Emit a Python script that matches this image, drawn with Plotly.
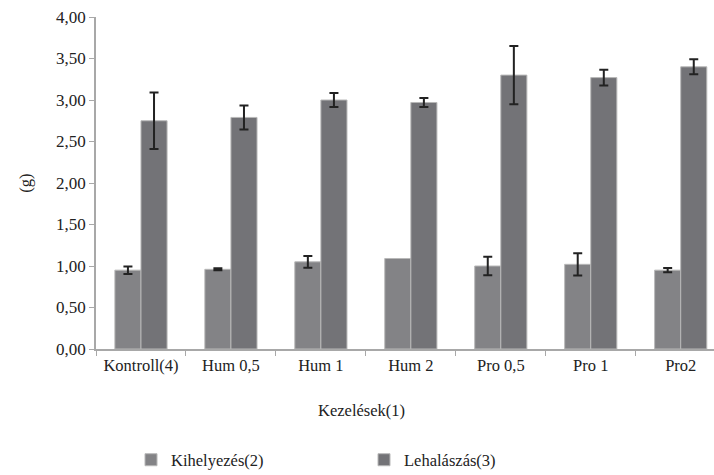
import plotly.graph_objects as go

categories = ["Kontroll(4)", "Hum 0,5", "Hum 1", "Hum 2", "Pro 0,5", "Pro 1", "Pro2"]
kihelyezes = [0.95, 0.96, 1.05, 1.09, 1.00, 1.02, 0.95]
kihelyezes_err = [0.045, 0.012, 0.07, None, 0.11, 0.135, 0.025]
lehalaszas = [2.75, 2.79, 3.00, 2.97, 3.30, 3.27, 3.40]
lehalaszas_err = [0.34, 0.145, 0.085, 0.055, 0.35, 0.095, 0.09]
y_ticks = [0, 0.5, 1.0, 1.5, 2.0, 2.5, 3.0, 3.5, 4.0]
y_tick_labels = ["0,00", "0,50", "1,00", "1,50", "2,00", "2,50", "3,00", "3,50", "4,00"]

FONT = "Liberation Serif, Times New Roman, serif"
TXT = "#222222"
W, H = 714, 475
L, R, T, B = 96, 0, 17, 126
PH = H - T - B

# plotly.js skips error bars whose value is not numeric (NaN); null would become 0
kih_err_plot = [e if e is not None else "NaN" for e in kihelyezes_err]

fig = go.Figure()
err_style = dict(type="data", visible=True, color="#222222", thickness=2, width=4.5)
fig.add_trace(go.Bar(
    x=categories, y=kihelyezes, name="Kihelyezés(2)",
    marker=dict(color="#838386", line=dict(color="#b8b8b8", width=1)),
    error_y=dict(array=kih_err_plot, **err_style),
))
fig.add_trace(go.Bar(
    x=categories, y=lehalaszas, name="Lehalászás(3)",
    marker=dict(color="#737377", line=dict(color="#b8b8b8", width=1)),
    error_y=dict(array=lehalaszas_err, **err_style),
))

fig.update_layout(
    width=W, height=H,
    margin=dict(l=L, r=R, t=T, b=B, autoexpand=False),
    paper_bgcolor="white", plot_bgcolor="white",
    font=dict(family=FONT, size=16.5, color=TXT),
    barmode="group", bargap=0.42, bargroupgap=0,
    showlegend=True,
    legend=dict(orientation="h", x=(131 - L) / (W - L), xanchor="left",
                y=(T + PH - 460) / PH, yanchor="middle",
                entrywidth=188, font=dict(family=FONT, size=16.5, color=TXT),
                itemwidth=30, bgcolor="rgba(0,0,0,0)"),
    xaxis=dict(range=[-0.5, 6.37], showline=True, linecolor="#a8a8a8", linewidth=1.5,
               ticks="outside", tickson="boundaries", ticklen=5, tickcolor="#a8a8a8",
               showgrid=False, automargin=False,
               tickfont=dict(family=FONT, size=16.5, color=TXT)),
    yaxis=dict(range=[0, 4], tickvals=y_ticks, ticktext=y_tick_labels,
               showline=True, linecolor="#a8a8a8", linewidth=1.5,
               ticks="outside", ticklen=5, tickcolor="#a8a8a8", showgrid=False,
               zeroline=False, automargin=False,
               tickfont=dict(family=FONT, size=17, color=TXT),
               title=dict(text="(g)", standoff=20, font=dict(family=FONT, size=16.5, color=TXT))),
    annotations=[dict(text="Kezelések(1)", xref="paper", yref="paper",
                      x=(361 - L) / (W - L), y=(T + PH - 410) / PH,
                      xanchor="center", yanchor="middle", showarrow=False,
                      font=dict(family=FONT, size=16.5, color=TXT))],
)

fig.write_html("out.html", config={"displayModeBar": False},
               post_script="document.body.style.margin='0';document.body.style.overflow='hidden';")
